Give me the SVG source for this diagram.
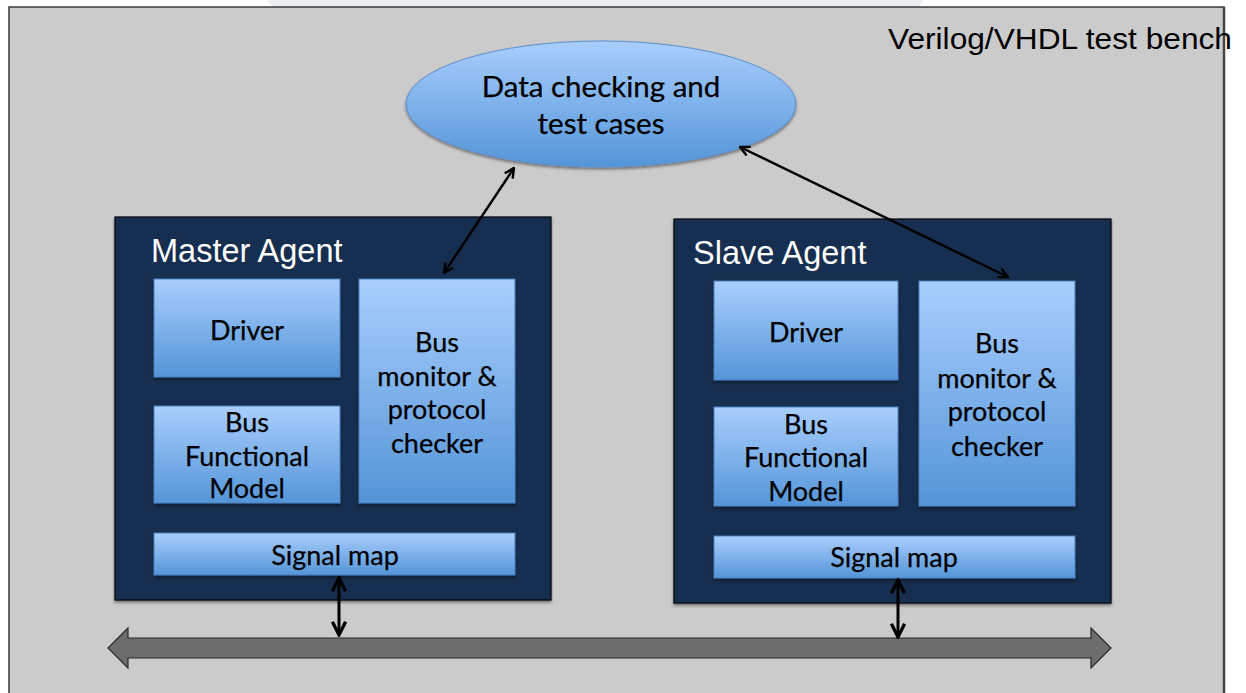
<svg xmlns="http://www.w3.org/2000/svg" width="1246" height="693" viewBox="0 0 1246 693">
<defs>
<linearGradient id="blue" x1="0" y1="0" x2="0" y2="1">
<stop offset="0" stop-color="#a9cefd"/>
<stop offset="1" stop-color="#5495d8"/>
</linearGradient>
<filter id="sh" x="-10%" y="-10%" width="120%" height="130%">
<feDropShadow dx="0" dy="2" stdDeviation="1.5" flood-color="#000" flood-opacity="0.45"/>
</filter>
<marker id="ah" viewBox="0 0 10 10" refX="9" refY="5" markerWidth="5" markerHeight="5" orient="auto-start-reverse" markerUnits="strokeWidth">
<path d="M1,1 L9,5 L1,9" fill="none" stroke="#000" stroke-width="2"/>
</marker>
<marker id="ah2" viewBox="0 0 10 10" refX="9" refY="5" markerWidth="5.5" markerHeight="5.5" orient="auto-start-reverse" markerUnits="strokeWidth">
<path d="M1,1 L9,5 L1,9" fill="none" stroke="#000" stroke-width="2"/>
</marker>
</defs>
<style>
.agent{fill:#132f4f;stroke:#0a0a0a;stroke-width:1.2;}
.box{fill:url(#blue);stroke:#4a80c0;stroke-width:1;}
.title{font-family:"Liberation Sans",Arial,sans-serif;font-size:32.5px;fill:#fff;}
.lbl{font-family:Lato,"Open Sans",sans-serif;font-size:27px;fill:#000;stroke:#000;stroke-width:0.25;text-anchor:middle;}
.big{font-size:29.5px;}
.conn{stroke:#000;fill:none;}
</style>
<rect x="0" y="0" width="1246" height="693" fill="#fff"/>
<rect x="268" y="-10" width="655" height="17" rx="8" fill="#eaeff4"/>
<rect x="9" y="7" width="1215" height="700" fill="#cbcbcb" stroke="#3a3a3a" stroke-width="1.5"/>
<line x1="1224" y1="7" x2="1224" y2="693" stroke="#444" stroke-width="2.5"/>
<text x="888" y="49" font-family="'Liberation Sans',Arial,sans-serif" font-size="30" fill="#000" textLength="344" lengthAdjust="spacingAndGlyphs">Verilog/VHDL test bench</text>

<g id="data-checking">
<ellipse cx="601" cy="104" rx="195" ry="63" fill="url(#blue)" stroke="#5d8fcf" stroke-width="1" filter="url(#sh)"/>
<text class="lbl big" x="601" y="97">Data checking and</text>
<text class="lbl big" x="601" y="134">test cases</text>
</g>

<g id="master-agent">
<rect class="agent" x="115" y="217" width="436" height="383" filter="url(#sh)"/>
<text class="title" x="151" y="262">Master Agent</text>
<g id="master-driver">
<rect class="box" x="154" y="279" width="186" height="98" filter="url(#sh)"/>
<text class="lbl" x="247" y="340">Driver</text>
</g>
<g id="master-bfm">
<rect class="box" x="154" y="406" width="186" height="97" filter="url(#sh)"/>
<text class="lbl" x="247" y="432">Bus</text>
<text class="lbl" x="247" y="466">Functional</text>
<text class="lbl" x="247" y="498">Model</text>
</g>
<g id="master-monitor">
<rect class="box" x="359" y="279" width="156" height="224" filter="url(#sh)"/>
<text class="lbl" x="437" y="352">Bus</text>
<text class="lbl" x="437" y="386">monitor &amp;</text>
<text class="lbl" x="437" y="419">protocol</text>
<text class="lbl" x="437" y="453">checker</text>
</g>
<g id="master-signal-map">
<rect class="box" x="154" y="533" width="361" height="42" filter="url(#sh)"/>
<text class="lbl" x="335" y="565">Signal map</text>
</g>
</g>

<g id="slave-agent">
<rect class="agent" x="674" y="219" width="437" height="384" filter="url(#sh)"/>
<text class="title" x="693" y="264">Slave Agent</text>
<g id="slave-driver">
<rect class="box" x="714" y="281" width="184" height="99" filter="url(#sh)"/>
<text class="lbl" x="806" y="342">Driver</text>
</g>
<g id="slave-bfm">
<rect class="box" x="714" y="407" width="184" height="99" filter="url(#sh)"/>
<text class="lbl" x="806" y="434">Bus</text>
<text class="lbl" x="806" y="467">Functional</text>
<text class="lbl" x="806" y="501">Model</text>
</g>
<g id="slave-monitor">
<rect class="box" x="919" y="281" width="156" height="225" filter="url(#sh)"/>
<text class="lbl" x="997" y="353">Bus</text>
<text class="lbl" x="997" y="388">monitor &amp;</text>
<text class="lbl" x="997" y="421">protocol</text>
<text class="lbl" x="997" y="456">checker</text>
</g>
<g id="slave-signal-map">
<rect class="box" x="714" y="536" width="361" height="42" filter="url(#sh)"/>
<text class="lbl" x="894" y="567">Signal map</text>
</g>
</g>

<g id="bus">
<path d="M108,648 L128,628 L128,638 L1091,638 L1091,628 L1111,648 L1091,668 L1091,658 L128,658 L128,668 Z" fill="#6d6d6d" stroke="#2a2a2a" stroke-width="1.2"/>
</g>

<g id="connectors">
<line class="conn" x1="444" y1="273" x2="514" y2="168" stroke-width="2.4" marker-start="url(#ah)" marker-end="url(#ah)"/>
<line class="conn" x1="1008" y1="277" x2="740" y2="147" stroke-width="2.4" marker-start="url(#ah)" marker-end="url(#ah)"/>
<line class="conn" x1="339" y1="578" x2="339" y2="635" stroke-width="3" marker-start="url(#ah2)" marker-end="url(#ah2)"/>
<line class="conn" x1="898" y1="580" x2="898" y2="637" stroke-width="3" marker-start="url(#ah2)" marker-end="url(#ah2)"/>
</g>
</svg>
